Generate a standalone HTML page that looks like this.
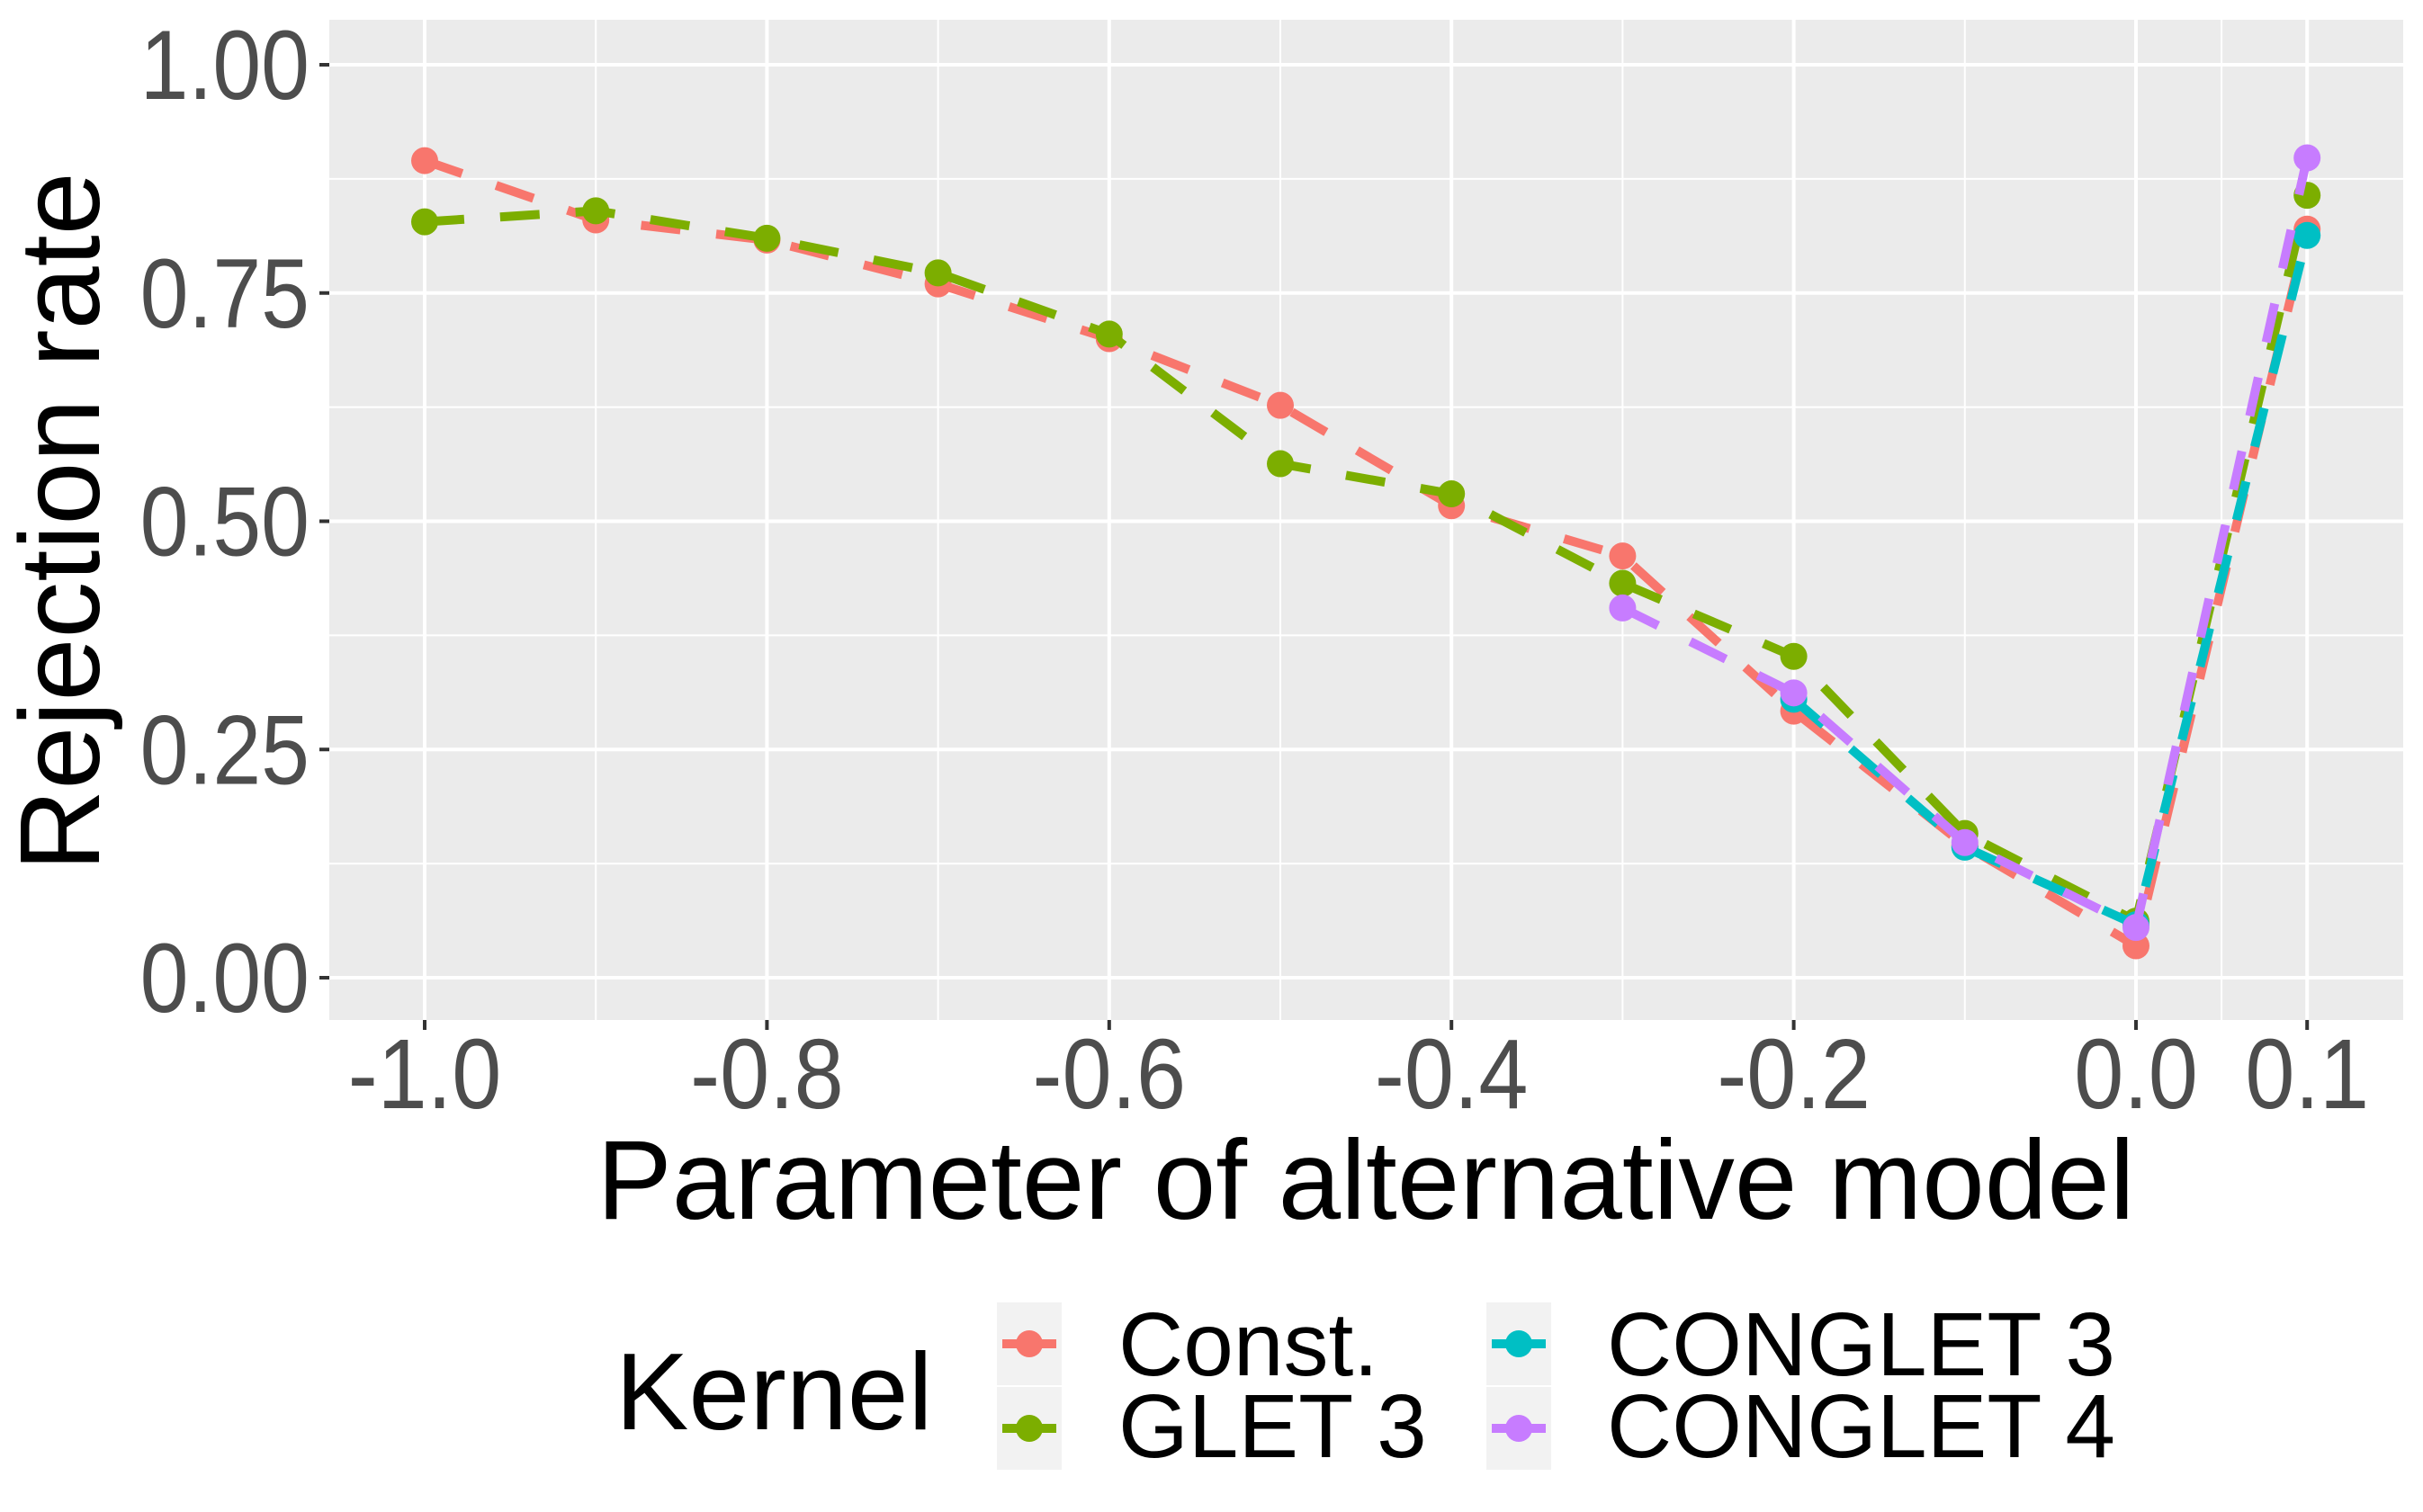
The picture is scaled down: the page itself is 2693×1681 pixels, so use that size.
<!DOCTYPE html>
<html><head><meta charset="utf-8"><style>
html,body{margin:0;padding:0;background:#fff}
svg{display:block;font-family:"Liberation Sans",Arial,sans-serif}
</style></head><body>
<svg id="chart" width="2693" height="1681" viewBox="0 0 2693 1681" xmlns="http://www.w3.org/2000/svg">
<rect x="366" y="22" width="2305" height="1112" fill="#EBEBEB"/>
<g id="grid"></g>
<g id="series"></g>
<g id="axes"></g>
<text x="1518" y="1355" font-size="125" text-anchor="middle" fill="#000">Parameter of alternative model</text>
<text transform="translate(110,580) rotate(-90)" font-size="126" text-anchor="middle" fill="#000">Rejection rate</text>
<g id="legend">
<text x="684" y="1589" font-size="122" fill="#000">Kernel</text>
</g>
</svg>
<script>
const xCats=[-1.0,-0.9,-0.8,-0.7,-0.6,-0.5,-0.4,-0.3,-0.2,-0.1,0.0,0.1];
const constVals=[0.895,0.830,0.808,0.760,0.700,0.627,0.517,0.462,0.292,0.145,0.035,0.820];
const gletVals=[0.828,0.840,0.810,0.772,0.705,0.563,0.530,0.432,0.352,0.158,0.062,0.857];
const conglet3X=[-0.2,-0.1,0.0,0.1];
const conglet3Vals=[0.305,0.143,0.058,0.813];
const conglet4X=[-0.3,-0.2,-0.1,0.0,0.1];
const conglet4Vals=[0.405,0.312,0.148,0.055,0.898];
const xTicks=[-1.0,-0.8,-0.6,-0.4,-0.2,0.0,0.1];
const xTickLabels=["-1.0","-0.8","-0.6","-0.4","-0.2","0.0","0.1"];
const xMinor=[-0.9,-0.7,-0.5,-0.3,-0.1,0.05];
const yTicks=[0,0.25,0.5,0.75,1.0];
const yTickLabels=["0.00","0.25","0.50","0.75","1.00"];
const yMinor=[0.125,0.375,0.625,0.875];
const seriesNames=["Const.","GLET 3","CONGLET 3","CONGLET 4"];
const colors=["#F8766D","#7CAE00","#00BFC4","#C77CFF"];

const NS="http://www.w3.org/2000/svg";
function X(v){return 2374+(v-0)*1902;}
function Y(v){return 1087-v*1015;}
function mk(tag,attrs,parent){const e=document.createElementNS(NS,tag);for(const k in attrs)e.setAttribute(k,attrs[k]);parent.appendChild(e);return e;}
const grid=document.getElementById('grid'),axes=document.getElementById('axes'),ser=document.getElementById('series'),leg=document.getElementById('legend');
yMinor.forEach(v=>{const l=mk('line',{x1:366,x2:2671,y1:Y(v),y2:Y(v),stroke:'#fff','stroke-width':2},grid);

});
xMinor.forEach(v=>{const l=mk('line',{x1:X(v),x2:X(v),y1:22,y2:1134,stroke:'#fff','stroke-width':2},grid);

});
yTicks.forEach((v,i)=>{const l=mk('line',{x1:366,x2:2671,y1:Y(v),y2:Y(v),stroke:'#fff','stroke-width':4},grid);


const t=mk('line',{x1:355,x2:366,y1:Y(v),y2:Y(v),stroke:'#333','stroke-width':4},axes);


const tx=mk('text',{x:0,y:0,transform:'translate(344,'+(Y(v)+38)+') scale(0.88,1)','font-size':110,'text-anchor':'end',fill:'#4D4D4D'},axes);tx.textContent=yTickLabels[i];

});
xTicks.forEach((v,i)=>{const l=mk('line',{x1:X(v),x2:X(v),y1:22,y2:1134,stroke:'#fff','stroke-width':4},grid);


const t=mk('line',{x1:X(v),x2:X(v),y1:1134,y2:1145,stroke:'#333','stroke-width':4},axes);


const tx=mk('text',{x:0,y:0,transform:'translate('+X(v)+',1232) scale(0.9,1)','font-size':110,'text-anchor':'middle',fill:'#4D4D4D'},axes);tx.textContent=xTickLabels[i];

});
const sdata=[[xCats,constVals],[xCats,gletVals],[conglet3X,conglet3Vals],[conglet4X,conglet4Vals]];
sdata.forEach((s,k)=>{const g=mk('g',{},ser);


const pts=s[0].map((x,i)=>X(x)+','+Y(s[1][i])).join(' ');
const pl=mk('polyline',{points:pts,fill:'none',stroke:colors[k],'stroke-width':10,'stroke-dasharray':'44 40'},g);


s[0].forEach((x,i)=>{const c=mk('circle',{cx:X(x),cy:Y(s[1][i]),r:15,fill:colors[k]},g);

});});
const keyPos=[[1108,1448],[1108,1542],[1652,1448],[1652,1542]];
const labPos=[[1243,1529],[1243,1620],[1786,1529],[1786,1620]];
seriesNames.forEach((n,k)=>{const g=mk('g',{},leg);


const [kx,ky]=keyPos[k];
mk('rect',{x:kx,y:ky,width:72,height:92,fill:'#F2F2F2'},g);
mk('line',{x1:kx+6,x2:kx+66,y1:ky+46,y2:ky+46,stroke:colors[k],'stroke-width':10,'stroke-dasharray':'26 12'},g);
mk('circle',{cx:kx+36,cy:ky+46,r:15,fill:colors[k]},g);
const t=mk('text',{x:labPos[k][0],y:labPos[k][1],'font-size':100,fill:'#000'},g);t.textContent=n;

});
</script>
</body></html>
